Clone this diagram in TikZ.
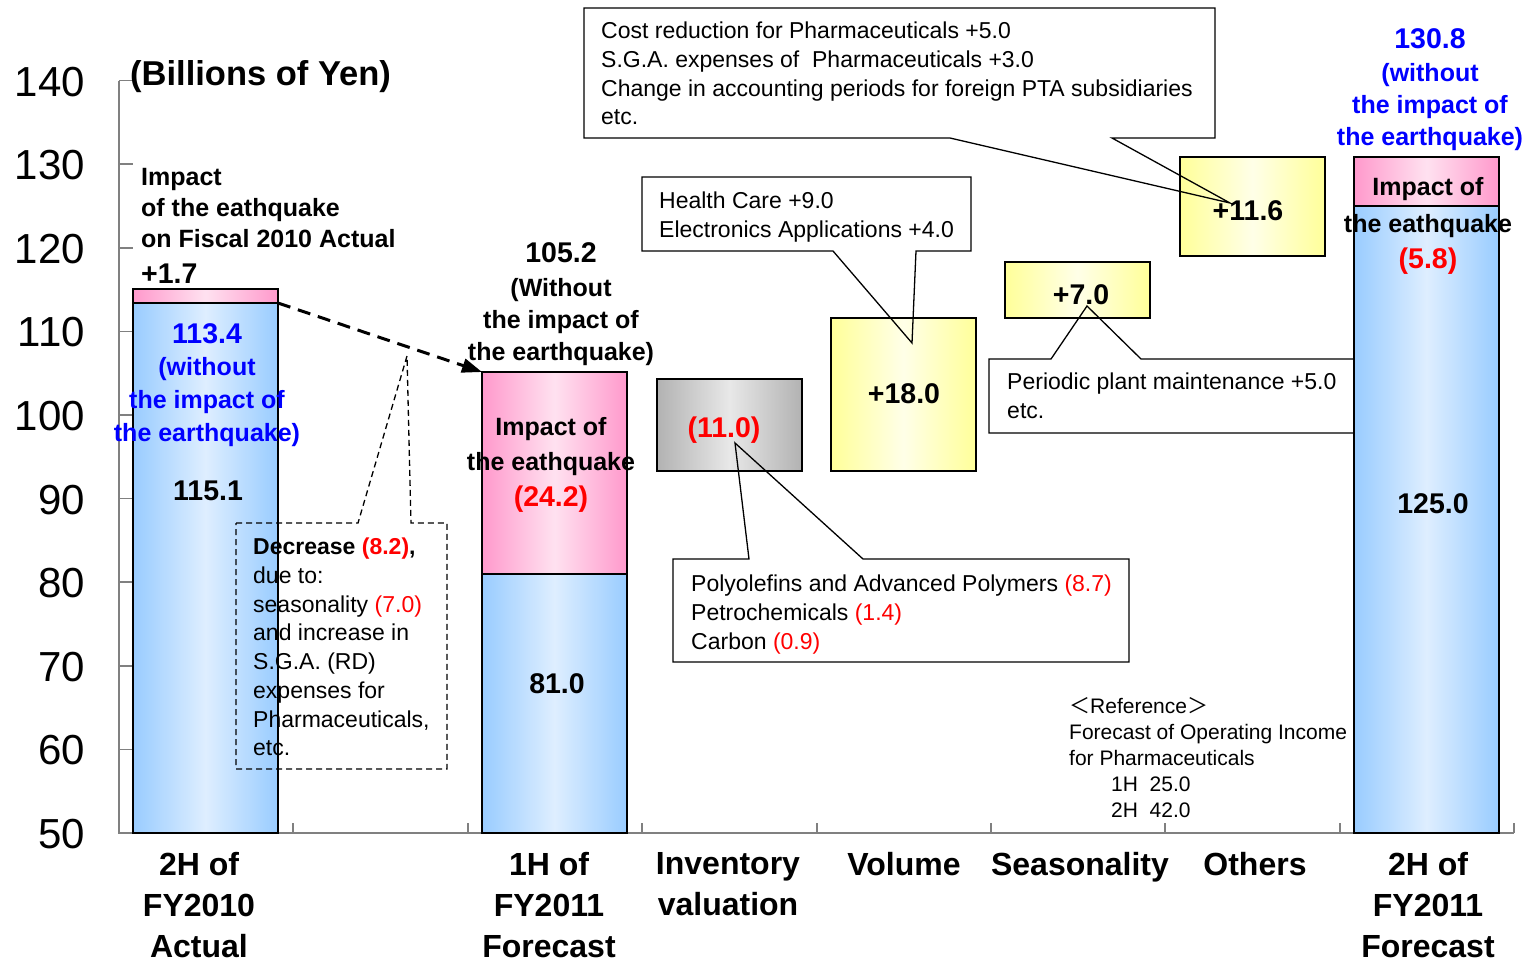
\documentclass[tikz,border=0pt]{standalone}
\usepackage{fontspec}
\setmainfont{Liberation Sans}
\newfontfamily\cjkfont{Noto Sans CJK JP}
\usetikzlibrary{arrows.meta}

\definecolor{barblue}{RGB}{153,204,255}
\definecolor{barbluelight}{RGB}{222,238,255}
\definecolor{barpink}{RGB}{255,153,204}
\definecolor{barpinklight}{RGB}{255,225,240}
\definecolor{bargrey}{RGB}{178,178,178}
\definecolor{bargreylight}{RGB}{232,232,232}
\definecolor{baryellow}{RGB}{255,255,153}
\definecolor{baryellowlight}{RGB}{255,255,232}
\definecolor{axisgrey}{RGB}{128,128,128}
\definecolor{numblue}{RGB}{0,0,255}
\definecolor{numred}{RGB}{255,0,0}

\tikzset{
  axisline/.style={draw=axisgrey, line width=1.5pt},
  segment/.style={draw=black, line width=1.5pt, inner sep=0pt, outer sep=0pt,
    anchor=north west, minimum width=145pt},
  bluebar/.style={segment, left color=barblue, right color=barblue, middle color=barbluelight},
  pinkbar/.style={segment, left color=barpink, right color=barpink, middle color=barpinklight},
  greybar/.style={segment, left color=bargrey, right color=bargrey, middle color=bargreylight},
  yellowbar/.style={segment, left color=baryellow, right color=baryellow, middle color=baryellowlight},
  ticklabel/.style={anchor=east, inner sep=0pt, font=\fontsize{42}{48}\selectfont},
  catlabel/.style={anchor=north, align=center, inner sep=0pt, font=\bfseries\fontsize{32}{41}\selectfont},
  value/.style={anchor=base, inner sep=0pt, font=\bfseries\fontsize{28.5}{33}\selectfont},
  note/.style={anchor=north, align=center, inner sep=0pt, font=\bfseries\fontsize{25}{33}\selectfont},
  calltext/.style={anchor=north west, align=left, inner sep=0pt, font=\fontsize{23}{28.7}\selectfont},
  callout/.style={draw=black, line width=1.3pt},
}

\begin{document}
\begin{tikzpicture}[x=1pt, y=-1pt]
\useasboundingbox (0,0) rectangle (1526,962);

% axes
\draw[axisline] (119,81) -- (119,833) -- (1514,833);
\foreach \v in {50,60,...,140} {
  \draw[axisline] (119,{833-(\v-50)*8.36}) -- (133,{833-(\v-50)*8.36});
  \node[ticklabel] (tick\v) at (85,{834-(\v-50)*8.36}) {\v};
}
\foreach \x in {293,468,642,817,991,1165,1340,1514} {
  \draw[axisline] (\x,833) -- (\x,823);
}
\node[anchor=west, inner sep=0pt, font=\bfseries\fontsize{34.5}{40}\selectfont] (unit) at (130,77) {(Billions of Yen)};

% bars
\node[bluebar, minimum height=530pt] (fy10blue) at (133,303) {};
\node[pinkbar, minimum height=14pt] (fy10pink) at (133,289) {};
\node[bluebar, minimum height=259pt] (h1blue) at (482,574) {};
\node[pinkbar, minimum height=202pt] (h1pink) at (482,372) {};
\node[greybar, minimum height=92pt] (invbox) at (657,379) {};
\node[yellowbar, minimum height=153pt] (volbox) at (831,318) {};
\node[yellowbar, minimum height=56pt] (seabox) at (1005,262) {};
\node[yellowbar, minimum height=99pt] (othbox) at (1180,157) {};
\node[bluebar, minimum height=627pt] (h2blue) at (1354,206) {};
\node[pinkbar, minimum height=49pt] (h2pink) at (1354,157) {};

% texts on 2H FY2010
\node[note, anchor=north west, align=left, text=black, font=\bfseries\fontsize{25}{31}\selectfont] (fy10impact) at (141,168)
  {Impact\\of the eathquake\\on Fiscal 2010 Actual};
\node[value, anchor=base west] (fy10plus) at (141,283) {+1.7};
\node[value, text=numblue] (fy10net) at (207,343) {113.4};
\node[note, text=numblue] (fy10without) at (207,357) {(without\\the impact of\\the earthquake)};
\node[value] (fy10total) at (208,500) {115.1};

% texts on 1H FY2011
\node[value] (h1total) at (561,262) {105.2};
\node[note, font=\bfseries\fontsize{25}{32}\selectfont] (h1without) at (561,278) {(Without\\the impact of\\the earthquake)};
\node[note, font=\bfseries\fontsize{25}{35}\selectfont] (h1impact) at (551,417) {Impact of\\the eathquake};
\node[value, text=numred] (h1minus) at (551,506) {(24.2)};
\node[value] (h1net) at (557,693) {81.0};

% steps
\node[value, text=numred] (invval) at (724,437) {(11.0)};
\node[value] (volval) at (904,403) {+18.0};
\node[value] (seaval) at (1081,304) {+7.0};
\node[value] (othval) at (1248,220) {+11.6};

% texts on 2H FY2011
\node[value, text=numblue] (h2total) at (1430,48) {130.8};
\node[note, text=numblue, font=\bfseries\fontsize{25}{32}\selectfont] (h2without) at (1430,63) {(without\\the impact of\\the earthquake)};
\node[note, font=\bfseries\fontsize{25}{37}\selectfont] (h2impact) at (1428,177) {Impact of\\the eathquake};
\node[value, text=numred] (h2minus) at (1428,268) {(5.8)};
\node[value] (h2net) at (1433,513) {125.0};

% category labels
\foreach \x/\lab [count=\i] in {199/{2H of\\FY2010\\Actual}, 549/{1H of\\FY2011\\Forecast},
    728/{Inventory\\valuation}, 904/Volume, 1080/Seasonality, 1255/Others, 1428/{2H of\\FY2011\\Forecast}} {
  \node[catlabel] (cat\i) at (\x,852) {\lab};
}

% dashed link between the bars
\draw[line width=3pt, dash pattern=on 13pt off 8pt, -{Triangle[length=20pt, width=14pt]}]
  (fy10pink.south east) -- (h1pink.north west);

% callouts
\coordinate (dectip) at (407,356);
\draw[callout, dash pattern=on 6pt off 4pt] (236,523) -- (358,523) -- (dectip) -- (411,523) -- (447,523)
  -- (447,769) -- (236,769) -- cycle;
\node[calltext] (decnote) at (253,538)
  {\textbf{Decrease \textcolor{numred}{(8.2)},}\\due to:\\seasonality \textcolor{numred}{(7.0)}\\and increase in\\S.G.A. (RD)\\expenses for\\Pharmaceuticals,\\etc.};

\coordinate (othtip) at (1230,203);
\draw[callout] (950,138) -- (othtip) -- (1112,138) -- (1215,138) -- (1215,8) -- (584,8) -- (584,138) -- cycle;
\node[calltext] (othnote) at (601,22)
  {Cost reduction for Pharmaceuticals +5.0\\S.G.A. expenses of\ \ Pharmaceuticals +3.0\\Change in accounting periods for foreign PTA subsidiaries\\etc.};

\coordinate (voltip) at (912,343);
\draw[callout] (833,251) -- (voltip) -- (916,251) -- (971,251) -- (971,177) -- (642,177) -- (642,251) -- cycle;
\node[calltext] (volnote) at (659,192) {Health Care +9.0\\Electronics Applications +4.0};

\coordinate (invtip) at (735,443);
\draw[callout] (749,559) -- (invtip) -- (863,559) -- (1129,559) -- (1129,662) -- (673,662) -- (673,559) -- cycle;
\node[calltext] (invnote) at (691,575)
  {Polyolefins and Advanced Polymers \textcolor{numred}{(8.7)}\\Petrochemicals \textcolor{numred}{(1.4)}\\Carbon \textcolor{numred}{(0.9)}};

\coordinate (seatip) at (1087,306);
\draw[callout] (1051,359) -- (seatip) -- (1141,359) -- (1354,359) -- (1354,433) -- (989,433) -- (989,359) -- cycle;
\node[calltext] (seanote) at (1007,373) {Periodic plant maintenance +5.0\\etc.};

% reference note
\node[calltext, font=\fontsize{21}{26}\selectfont] (refnote) at (1069,697)
  {{\cjkfont ＜}Reference{\cjkfont ＞}\\Forecast of Operating Income\\for Pharmaceuticals\\\hspace*{42pt}1H\ \ 25.0\\\hspace*{42pt}2H\ \ 42.0};
\end{tikzpicture}
\end{document}
